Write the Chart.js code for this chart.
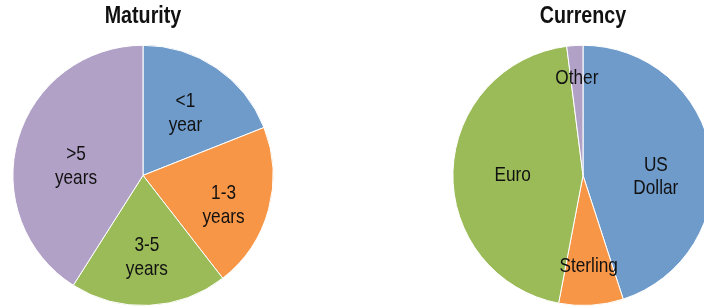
<!DOCTYPE html>
<html>
<head>
<meta charset="utf-8">
<script src="https://cdn.jsdelivr.net/npm/chart.js@4"></script>
<style>
  html, body { margin: 0; padding: 0; background: #fff; overflow: hidden; }
  body { width: 704px; height: 306px; position: relative; }
  .box { position: absolute; top: 0; width: 286px; height: 306px; }
</style>
</head>
<body>
<div class="box" style="left:0px"><canvas id="maturity"></canvas></div>
<div class="box" style="left:440px"><canvas id="currency"></canvas></div>
<script>
// Maturity breakdown (share, %)
const maturityLabels = [['<1', 'year'], ['1-3', 'years'], ['3-5', 'years'], ['>5', 'years']];
const maturityValues = [19, 20.5, 19.5, 41];

// Currency breakdown (share, %)
const currencyLabels = [['US', 'Dollar'], ['Sterling'], ['Euro'], ['Other']];
const currencyValues = [45, 8, 45, 2];

const sliceColors = ['#6f9bcb', '#f79646', '#9bbb59', '#b2a1c7'];
const fontFamily = "'Liberation Sans', Arial, sans-serif";
// no narrow face installed, so text gets squeezed sideways
const narrow = 0.82;

// label placement per slice: [fraction of radius, turn from mid angle in degrees]
const maturityLabelPos = [[0.58, 0], [0.66, 5], [0.63, 0], [0.52, -8.5]];
const currencyLabelPos = [[0.56, 10], [0.70, 0], [0.54, -1.5], [0.75, 0]];

function narrowText(ctx, text, x, y){
    ctx.save();
    ctx.translate(x, y);
    ctx.scale(narrow, 1);
    ctx.fillText(text, 0, 0);
    ctx.restore();
}

const sliceLabels = {
    id: 'sliceLabels',
    afterDatasetsDraw: (chart, args, opts) => {
        const ctx = chart.ctx;
        const meta = chart.getDatasetMeta(0);
        ctx.save();
        ctx.fillStyle = '#111';
        ctx.textAlign = 'center';
        ctx.textBaseline = 'middle';

        // title
        const tb = chart.titleBlock;
        ctx.font = 'bold 24px ' + fontFamily;
        narrowText(ctx, opts.title, (tb.left + tb.right) / 2, tb.top + 2 + 14.4);

        ctx.font = '21px ' + fontFamily;
        meta.data.forEach((arc, i) => {
            const p = arc.getProps(['x', 'y', 'startAngle', 'endAngle', 'outerRadius'], true);
            const mid = (p.startAngle + p.endAngle) / 2 + opts.pos[i][1] * Math.PI / 180;
            const r = p.outerRadius * opts.pos[i][0];
            const cx = p.x + Math.cos(mid) * r;
            const cy = p.y + Math.sin(mid) * r;
            const lines = chart.data.labels[i];
            const lh = 23.5;
            lines.forEach((t, k) => {
                narrowText(ctx, t, cx, cy + (k - (lines.length - 1) / 2) * lh);
            });
        });
        ctx.restore();
    }
};

function makePie(id, title, labels, values, labelPos){
    return new Chart(document.getElementById(id), {
        type: 'pie',
        data: {
            labels: labels,
            datasets: [{
                data: values,
                backgroundColor: sliceColors,
                borderColor: '#ffffff',
                borderWidth: 1,
                hoverOffset: 0
            }]
        },
        options: {
            responsive: true,
            maintainAspectRatio: false,
            animation: false,
            layout: { padding: 0 },
            plugins: {
                legend: { display: false },
                tooltip: { enabled: false },
                // kept for spacing, text itself is drawn by sliceLabels
                title: {
                    display: true,
                    text: title,
                    color: 'rgba(0,0,0,0)',
                    font: { family: fontFamily, size: 24, weight: 'bold' },
                    padding: { top: 2, bottom: 14 }
                },
                sliceLabels: { pos: labelPos, title: title }
            }
        },
        plugins: [sliceLabels]
    });
}

makePie('maturity', 'Maturity', maturityLabels, maturityValues, maturityLabelPos);
makePie('currency', 'Currency', currencyLabels, currencyValues, currencyLabelPos);
</script>
</body>
</html>
